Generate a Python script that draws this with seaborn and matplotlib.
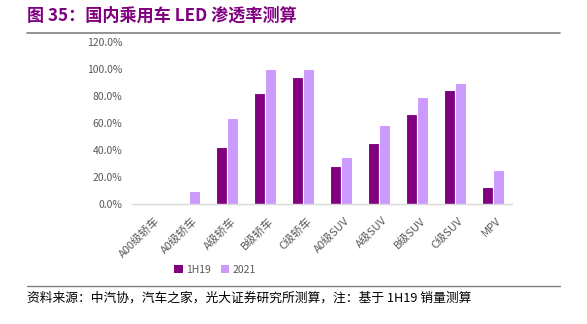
import matplotlib
matplotlib.use("Agg")
import matplotlib.pyplot as plt
import matplotlib.transforms as mtransforms
import seaborn as sns
import pandas as pd
from matplotlib.ticker import FuncFormatter, FixedLocator
from matplotlib.lines import Line2D
from matplotlib.patches import Patch

categories = ["A00级轿车", "A0级轿车", "A级轿车", "B级轿车", "C级轿车",
              "A0级SUV", "A级SUV", "B级SUV", "C级SUV", "MPV"]
series_names = ["1H19", "2021"]
values_1h19 = [0.0, 0.0, 42.0, 82.0, 94.0, 28.5, 45.5, 66.5, 84.5, 13.0]
values_2021 = [0.0, 10.0, 63.5, 100.0, 100.0, 35.0, 58.5, 79.0, 90.0, 25.0]
y_ticks = [0, 20, 40, 60, 80, 100, 120]

colors = ["#800080", "#CC99FF"]

sns.set_theme(style="white")
plt.rcParams["font.family"] = ["Noto Sans CJK SC", "DejaVu Sans"]

df = pd.DataFrame({
    "category": categories * 2,
    "series": [series_names[0]] * len(categories) + [series_names[1]] * len(categories),
    "value": values_1h19 + values_2021,
})

fig = plt.figure(figsize=(5.87, 3.24), dpi=100)
ax = fig.add_axes([0.225, 0.370, 0.647, 0.500])

sns.barplot(data=df, x="category", y="value", hue="series", palette=colors,
            saturation=1, width=0.58, edgecolor="white", linewidth=0.8, ax=ax,
            legend=False)

ax.set_ylim(0, 120)
ax.set_xlim(-0.5, len(categories) - 0.5)
ax.yaxis.set_major_locator(FixedLocator(y_ticks))
ax.yaxis.set_major_formatter(FuncFormatter(lambda v, p: f"{v:.1f}%"))
ax.set_xlabel("")
ax.set_ylabel("")

for side in ["top", "right", "left"]:
    ax.spines[side].set_visible(False)
ax.spines["bottom"].set_color("#D9D9D9")
ax.spines["bottom"].set_linewidth(1.0)

ax.tick_params(axis="y", length=0, labelsize=7.5, labelcolor="#595959", pad=7)
ax.tick_params(axis="x", which="major", length=0, labelsize=8.0,
               labelcolor="#595959", pad=8)
ax.set_xticks(range(len(categories)))
ax.set_xticklabels(categories, rotation=45, ha="right", rotation_mode="anchor")
shift = mtransforms.ScaledTranslation(3 / 100, 0, fig.dpi_scale_trans)
for lbl in ax.get_xticklabels():
    lbl.set_transform(lbl.get_transform() + shift)
ax.set_xticks([i - 0.5 for i in range(len(categories) + 1)], minor=True)
ax.tick_params(axis="x", which="minor", length=3, color="#D9D9D9", width=1.0,
               direction="in")

handles = [Patch(facecolor=c, edgecolor="none", label=n) for c, n in zip(colors, series_names)]
fig.legend(handles=handles, loc="center", bbox_to_anchor=(215 / 587, 1 - 270 / 324),
           ncol=2, frameon=False, fontsize=7.5, handlelength=0.8, handleheight=0.8,
           handletextpad=0.3, columnspacing=1.0, labelcolor="#595959")

# Title and source notes
fig.text(27 / 587, 1 - 16 / 324, "图 35：国内乘用车 LED 渗透率测算", color="#800080",
         fontsize=12.3, fontweight="bold", va="center", ha="left")
fig.add_artist(Line2D([27 / 587, 560 / 587], [1 - 33 / 324, 1 - 33 / 324],
                      color="#808080", linewidth=1.2))
fig.add_artist(Line2D([27 / 587, 560 / 587], [1 - 286 / 324, 1 - 286 / 324],
                      color="#808080", linewidth=1.0))
fig.text(27 / 587, 1 - 298 / 324, "资料来源：中汽协，汽车之家，光大证券研究所测算，注：基于 1H19 销量测算",
         color="black", fontsize=9.2, va="center", ha="left")

fig.savefig("out.png", dpi=100)
